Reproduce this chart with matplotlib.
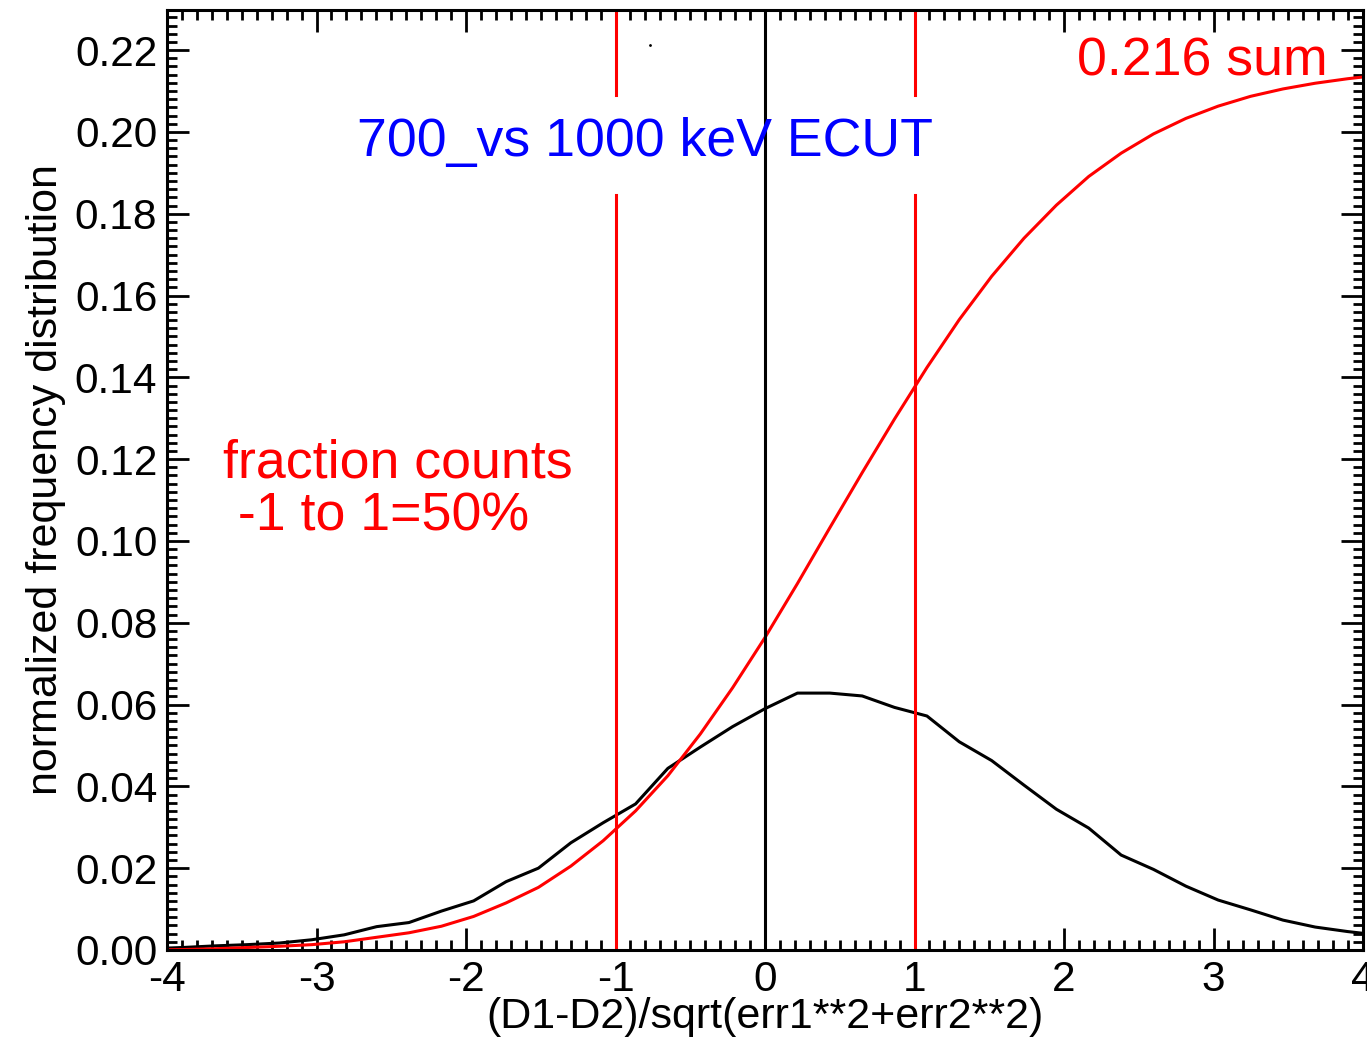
import numpy as np
import matplotlib
matplotlib.use("Agg")
import matplotlib.pyplot as plt
from matplotlib.ticker import MultipleLocator, FormatStrFormatter

plt.rcParams['font.family'] = ['Liberation Sans', 'DejaVu Sans']

# bin centres of the histogram (step ~0.2165)
x_bins = [-4.113, -3.897, -3.680, -3.464, -3.248, -3.031, -2.815, -2.598,
          -2.382, -2.165, -1.949, -1.732, -1.516, -1.299, -1.083, -0.866,
          -0.650, -0.433, -0.217, 0.000, 0.217, 0.433, 0.650, 0.866,
          1.083, 1.299, 1.516, 1.732, 1.949, 2.165, 2.382, 2.598,
          2.815, 3.031, 3.248, 3.464, 3.680, 3.897, 4.113]

# normalized frequency distribution (black)
freq = [0.0003, 0.0006, 0.0010, 0.0013, 0.0017, 0.0025, 0.0037, 0.0057,
        0.0067, 0.0095, 0.0120, 0.0167, 0.0200, 0.0262, 0.0311, 0.0357,
        0.0444, 0.0496, 0.0546, 0.0590, 0.0628, 0.0628, 0.0621, 0.0593,
        0.0572, 0.0509, 0.0463, 0.0403, 0.0344, 0.0298, 0.0232, 0.0197,
        0.0156, 0.0122, 0.0098, 0.0073, 0.0056, 0.0045, 0.0036]

# running sum (red)
cumsum = [0.0000, 0.0001, 0.0003, 0.0006, 0.0009, 0.0013, 0.0020, 0.0031,
          0.0042, 0.0058, 0.0082, 0.0115, 0.0153, 0.0205, 0.0267, 0.0340,
          0.0426, 0.0528, 0.0641, 0.0764, 0.0896, 0.1032, 0.1167, 0.1298,
          0.1424, 0.1541, 0.1647, 0.1740, 0.1821, 0.1891, 0.1948, 0.1995,
          0.2033, 0.2063, 0.2087, 0.2105, 0.2119, 0.2130, 0.2139]

title_text = "700_vs 1000 keV ECUT"
sum_text = "0.216 sum"
frac_lines = ["fraction counts", " -1 to 1=50%"]

fig = plt.figure(figsize=(13.67, 10.43), dpi=100)
ax = fig.add_axes([0.1222, 0.0892, 0.8749, 0.9012])

ax.plot(x_bins, freq, color='black', lw=2.2)
ax.plot(x_bins, cumsum, color='red', lw=2.2)

# markers at 0 and +-1 (red ones broken around the title)
ax.axvline(0, color='black', lw=2.2)
for xv in (-1, 1):
    ax.plot([xv, xv], [0, 0.1846], color='red', lw=2.2)
    ax.plot([xv, xv], [0.209, 0.23], color='red', lw=2.2)

# stray point
ax.plot([-0.769], [0.2213], 'k.', ms=2)

ax.set_xlim(-4, 4)
ax.set_ylim(0, 0.2298)

ax.xaxis.set_major_locator(MultipleLocator(1))
ax.xaxis.set_minor_locator(MultipleLocator(0.1))
ax.yaxis.set_major_locator(MultipleLocator(0.02))
ax.yaxis.set_minor_locator(MultipleLocator(0.002))
ax.yaxis.set_major_formatter(FormatStrFormatter('%.2f'))
ax.xaxis.set_major_formatter(FormatStrFormatter('%d'))

ax.tick_params(which='both', direction='in', top=True, right=True,
               width=2, labelsize=30.5, colors='black')
ax.tick_params(which='major', length=16, pad=7)
ax.tick_params(which='minor', length=7.5)
for s in ax.spines.values():
    s.set_linewidth(2.2)

ax.set_xlabel("(D1-D2)/sqrt(err1**2+err2**2)", fontsize=31, labelpad=-2)
ax.set_ylabel("normalized frequency distribution", fontsize=31, labelpad=6)

ax.text(-2.727, 0.1976, title_text, color='blue', fontsize=38.6,
        ha='left', va='center')
ax.text(2.086, 0.2171, sum_text, color='red', fontsize=38.6,
        ha='left', va='center')
ax.text(-3.623, 0.119, frac_lines[0], color='red', fontsize=38.7,
        ha='left', va='center')
ax.text(-3.623, 0.1059, frac_lines[1], color='red', fontsize=38.7,
        ha='left', va='center')

fig.savefig("out.png", dpi=100)
